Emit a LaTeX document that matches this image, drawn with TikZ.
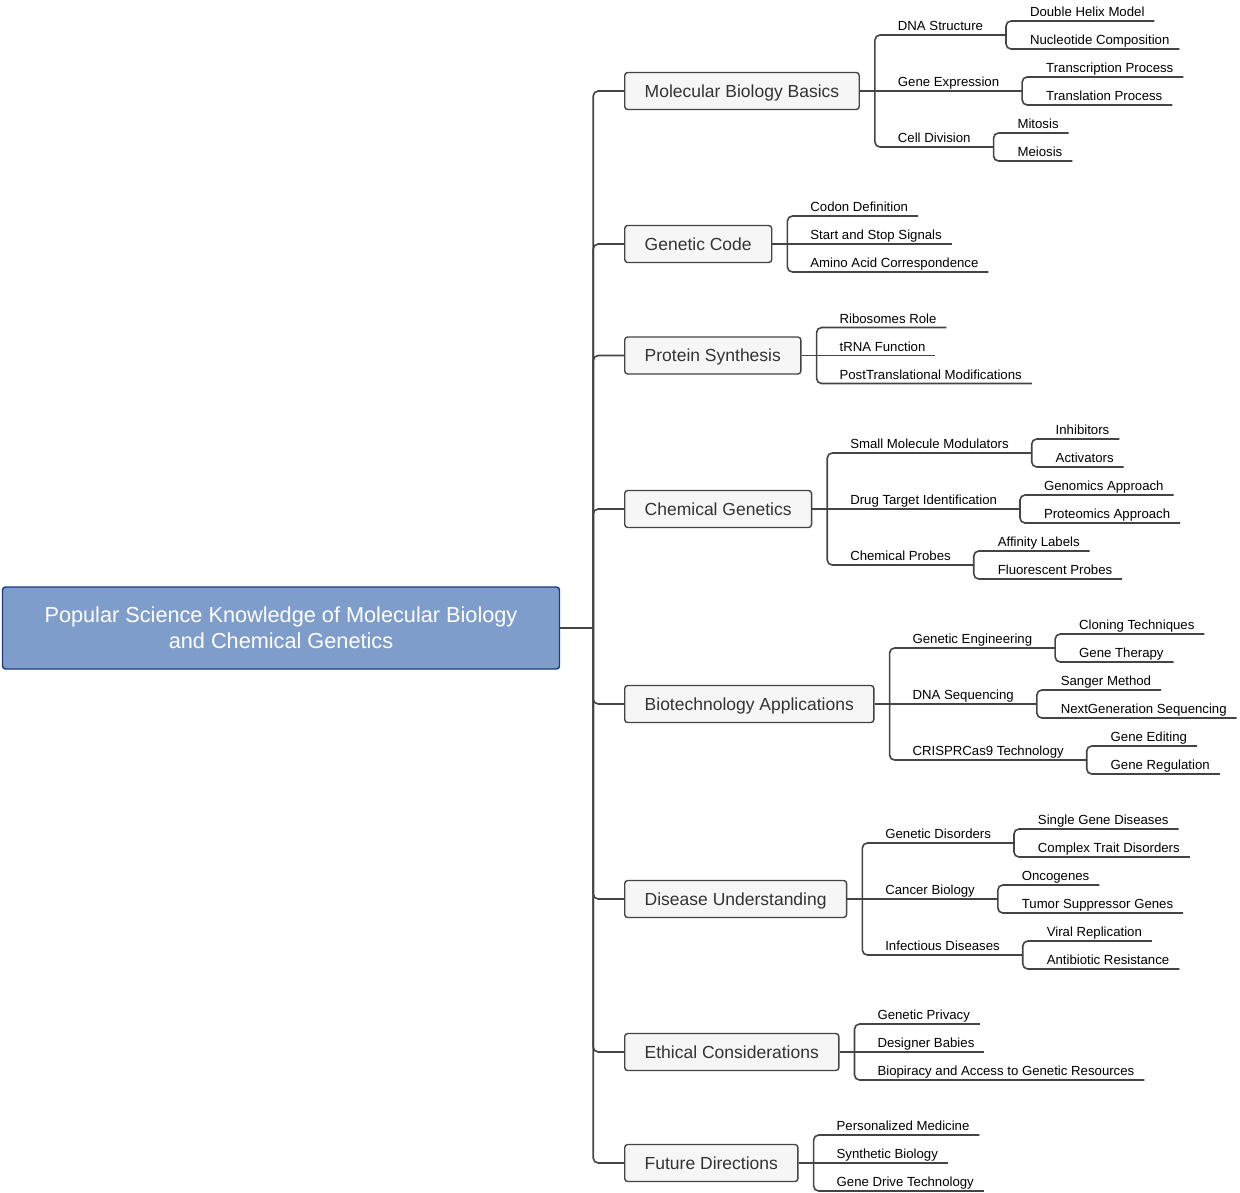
\documentclass[tikz,border=0pt]{standalone}
\usepackage{fontspec}
\setmainfont{Liberation Sans}
\definecolor{rootfill}{RGB}{127,157,203}
\definecolor{rootline}{RGB}{28,58,128}
\definecolor{topicfill}{RGB}{246,246,246}
\definecolor{topictext}{RGB}{51,51,51}
\definecolor{wire}{RGB}{68,68,68}
\begin{document}
\begin{tikzpicture}[x=1pt, y=-1pt,
        root/.style = {draw=rootline, fill=rootfill, line width=1.4pt, rounded corners=3pt, text=white, align=center, minimum width=557pt, minimum height=82pt, font=\fontsize{21.7}{26}\selectfont},
        topic/.style = {draw=wire, fill=topicfill, text=topictext, line width=1.4pt, rounded corners=3pt, anchor=west, inner xsep=20pt, text height=12.6pt, text depth=0pt, minimum height=37pt, font=\fontsize{17.5}{21}\selectfont},
        leaf/.style = {anchor=south west, inner xsep=0pt, inner ysep=4.5pt, outer sep=0pt, text depth=0pt, font=\fontsize{13.2}{15}\selectfont},
        link/.style = {draw=wire, line width=1.6pt, rounded corners=5pt}]
        \useasboundingbox (0,0) rectangle (1240,1192);
        \node[root] (root) at (281,628) {Popular Science Knowledge of Molecular Biology\\and Chemical Genetics};
        %
        \node[topic] (t1) at (624,91) {Molecular Biology Basics};
        \node[topic] (t2) at (624,244) {Genetic Code};
        \node[topic] (t3) at (624,355.5) {Protein Synthesis};
        \node[topic] (t4) at (624,509) {Chemical Genetics};
        \node[topic] (t5) at (624,704) {Biotechnology Applications};
        \node[topic] (t6) at (624,899) {Disease Understanding};
        \node[topic] (t7) at (624,1052) {Ethical Considerations};
        \node[topic] (t8) at (624,1163) {Future Directions};
        %
        \node[leaf] (c11) at ([xshift=38pt,yshift=56pt]t1.east) {DNA Structure};
        \node[leaf] (c12) at ([xshift=38pt]t1.east) {Gene Expression};
        \node[leaf] (c13) at ([xshift=38pt,yshift=-56pt]t1.east) {Cell Division};
        \node[leaf] (g111) at ([xshift=47pt,yshift=14pt]c11.south east) {Double Helix Model};
        \node[leaf] (g112) at ([xshift=47pt,yshift=-14pt]c11.south east) {Nucleotide Composition};
        \node[leaf] (g121) at ([xshift=47pt,yshift=14pt]c12.south east) {Transcription Process};
        \node[leaf] (g122) at ([xshift=47pt,yshift=-14pt]c12.south east) {Translation Process};
        \node[leaf] (g131) at ([xshift=47pt,yshift=14pt]c13.south east) {Mitosis};
        \node[leaf] (g132) at ([xshift=47pt,yshift=-14pt]c13.south east) {Meiosis};
        %
        \node[leaf] (c21) at ([xshift=38pt,yshift=28pt]t2.east) {Codon Definition};
        \node[leaf] (c22) at ([xshift=38pt]t2.east) {Start and Stop Signals};
        \node[leaf] (c23) at ([xshift=38pt,yshift=-28pt]t2.east) {Amino Acid Correspondence};
        %
        \node[leaf] (c31) at ([xshift=38pt,yshift=28pt]t3.east) {Ribosomes Role};
        \node[leaf] (c32) at ([xshift=38pt]t3.east) {tRNA Function};
        \node[leaf] (c33) at ([xshift=38pt,yshift=-28pt]t3.east) {PostTranslational Modifications};
        %
        \node[leaf] (c41) at ([xshift=38pt,yshift=56pt]t4.east) {Small Molecule Modulators};
        \node[leaf] (c42) at ([xshift=38pt]t4.east) {Drug Target Identification};
        \node[leaf] (c43) at ([xshift=38pt,yshift=-56pt]t4.east) {Chemical Probes};
        \node[leaf] (g411) at ([xshift=47pt,yshift=14pt]c41.south east) {Inhibitors};
        \node[leaf] (g412) at ([xshift=47pt,yshift=-14pt]c41.south east) {Activators};
        \node[leaf] (g421) at ([xshift=47pt,yshift=14pt]c42.south east) {Genomics Approach};
        \node[leaf] (g422) at ([xshift=47pt,yshift=-14pt]c42.south east) {Proteomics Approach};
        \node[leaf] (g431) at ([xshift=47pt,yshift=14pt]c43.south east) {Affinity Labels};
        \node[leaf] (g432) at ([xshift=47pt,yshift=-14pt]c43.south east) {Fluorescent Probes};
        %
        \node[leaf] (c51) at ([xshift=38pt,yshift=56pt]t5.east) {Genetic Engineering};
        \node[leaf] (c52) at ([xshift=38pt]t5.east) {DNA Sequencing};
        \node[leaf] (c53) at ([xshift=38pt,yshift=-56pt]t5.east) {CRISPRCas9 Technology};
        \node[leaf] (g511) at ([xshift=47pt,yshift=14pt]c51.south east) {Cloning Techniques};
        \node[leaf] (g512) at ([xshift=47pt,yshift=-14pt]c51.south east) {Gene Therapy};
        \node[leaf] (g521) at ([xshift=47pt,yshift=14pt]c52.south east) {Sanger Method};
        \node[leaf] (g522) at ([xshift=47pt,yshift=-14pt]c52.south east) {NextGeneration Sequencing};
        \node[leaf] (g531) at ([xshift=47pt,yshift=14pt]c53.south east) {Gene Editing};
        \node[leaf] (g532) at ([xshift=47pt,yshift=-14pt]c53.south east) {Gene Regulation};
        %
        \node[leaf] (c61) at ([xshift=38pt,yshift=56pt]t6.east) {Genetic Disorders};
        \node[leaf] (c62) at ([xshift=38pt]t6.east) {Cancer Biology};
        \node[leaf] (c63) at ([xshift=38pt,yshift=-56pt]t6.east) {Infectious Diseases};
        \node[leaf] (g611) at ([xshift=47pt,yshift=14pt]c61.south east) {Single Gene Diseases};
        \node[leaf] (g612) at ([xshift=47pt,yshift=-14pt]c61.south east) {Complex Trait Disorders};
        \node[leaf] (g621) at ([xshift=47pt,yshift=14pt]c62.south east) {Oncogenes};
        \node[leaf] (g622) at ([xshift=47pt,yshift=-14pt]c62.south east) {Tumor Suppressor Genes};
        \node[leaf] (g631) at ([xshift=47pt,yshift=14pt]c63.south east) {Viral Replication};
        \node[leaf] (g632) at ([xshift=47pt,yshift=-14pt]c63.south east) {Antibiotic Resistance};
        %
        \node[leaf] (c71) at ([xshift=38pt,yshift=28pt]t7.east) {Genetic Privacy};
        \node[leaf] (c72) at ([xshift=38pt]t7.east) {Designer Babies};
        \node[leaf] (c73) at ([xshift=38pt,yshift=-28pt]t7.east) {Biopiracy and Access to Genetic Resources};
        %
        \node[leaf] (c81) at ([xshift=38pt,yshift=28pt]t8.east) {Personalized Medicine};
        \node[leaf] (c82) at ([xshift=38pt]t8.east) {Synthetic Biology};
        \node[leaf] (c83) at ([xshift=38pt,yshift=-28pt]t8.east) {Gene Drive Technology};
        %
        \coordinate (trunk) at ([xshift=33pt]root.east);
        \draw[link] (root.east) -- (trunk);
        \foreach \i in {1,...,8}
          \draw[link] (trunk) |- (t\i.west);
        \foreach \i in {1,4,5,6} {
          \draw[link] (t\i.east) -- ([xshift=23pt]c\i2.south east);
          \foreach \j in {1,3}
            \draw[link] ([xshift=15pt]t\i.east) |- ([xshift=23pt]c\i\j.south east);
          \foreach \j in {1,2,3}
            \foreach \k in {1,2}
              \draw[link] ([xshift=23pt]c\i\j.south east) |- ([xshift=10pt]g\i\j\k.south east);
        }
        \foreach \i in {2,3,7,8} {
          \draw[link] (t\i.east) -- ([xshift=10pt]c\i2.south east);
          \foreach \j in {1,3}
            \draw[link] ([xshift=15pt]t\i.east) |- ([xshift=10pt]c\i\j.south east);
        }
      \end{tikzpicture}
\end{document}
